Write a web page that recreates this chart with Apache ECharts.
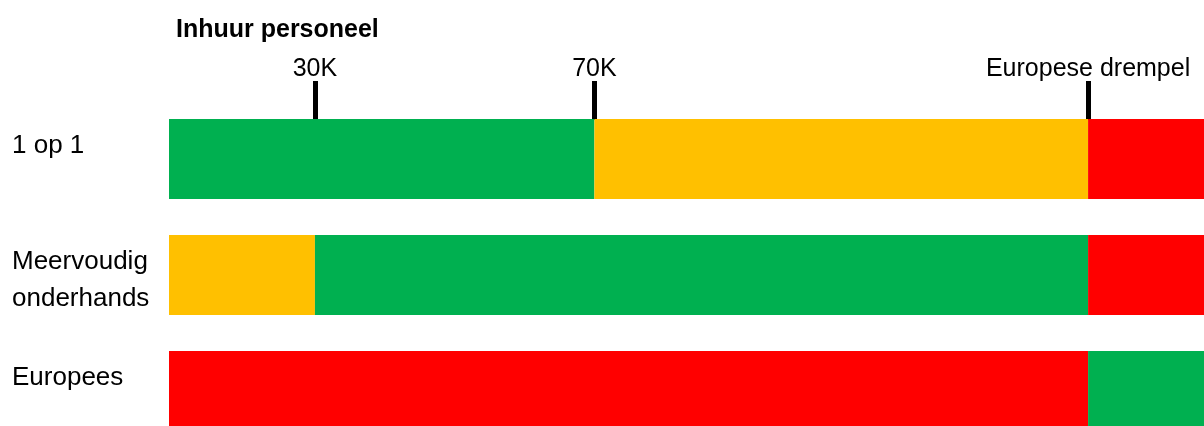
<!DOCTYPE html>
<html>
<head>
<meta charset="utf-8">
<script src="https://cdn.jsdelivr.net/npm/echarts@6/dist/echarts.min.js"></script>
<style>html,body{margin:0;padding:0;background:#fff}#c{width:1204px;height:426px}</style>
</head>
<body>
<div id="c"></div>
<script>
// Data (schematic scale 0..100)
const title = 'Inhuur personeel';
const categories = ['1 op 1', 'Meervoudig\nonderhands', 'Europees'];
const thresholdLabels = ['30K', '70K', 'Europese drempel'];
const thresholdPos = [14.1, 41.1, 88.8];
const axisMax = 100;
const rowBreaks = [['70K', 'Europese drempel'], ['30K', 'Europese drempel'], ['Europese drempel']];
const rowColors = [['green', 'yellow', 'red'], ['yellow', 'green', 'red'], ['red', 'green']];
const palette = { green: '#00B050', yellow: '#FFC000', red: '#FF0000' };

const FONT = 'Liberation Sans';
const nSeg = Math.max(...rowColors.map(r => r.length));
const series = [];
for (let s = 0; s < nSeg; s++) {
  const data = categories.map((c, i) => {
    const b = [0, ...rowBreaks[i].map(l => thresholdPos[thresholdLabels.indexOf(l)]), axisMax];
    if (s >= b.length - 1) return { value: 0 };
    return { value: +(b[s + 1] - b[s]).toFixed(3), itemStyle: { color: palette[rowColors[i][s]] } };
  });
  series.push({ type: 'bar', stack: 'all', barWidth: 80, data: data, silent: true });
}

const chart = echarts.init(document.getElementById('c'), null, { renderer: 'canvas' });
chart.setOption({
  animation: false,
  title: {
    text: title, left: 171, top: 10,
    textStyle: { fontFamily: FONT, fontWeight: 'bold', fontSize: 25, color: '#000', lineHeight: 30 }
  },
  grid: { left: 169, right: 0, top: 101, height: 348, containLabel: false, outerBoundsMode: 'none' },
  xAxis: {
    type: 'value', min: 0, max: axisMax, position: 'top', offset: -19,
    axisLine: { show: false },
    splitLine: { show: false },
    axisTick: { show: true, customValues: thresholdPos, length: 39, lineStyle: { color: '#000', width: 5 } },
    axisLabel: {
      show: true, customValues: thresholdPos, margin: 38,
      fontFamily: FONT, fontSize: 25, color: '#000',
      formatter: v => { const i = thresholdPos.findIndex(p => Math.abs(p - v) < 1e-6); return i >= 0 ? thresholdLabels[i] : ''; }
    }
  },
  yAxis: {
    type: 'category', inverse: true, data: categories,
    axisLine: { show: false }, axisTick: { show: false }, splitLine: { show: false },
    axisLabel: {
      align: 'left', margin: 157, fontFamily: FONT, fontSize: 26, color: '#000',
      lineHeight: 37,
      formatter: v => '{s|}\n' + (v.indexOf('\n') >= 0 ? v : v + '\n'),
      rich: { s: { fontSize: 1, lineHeight: 11 } }
    }
  },
  series: series
});
</script>
</body>
</html>
